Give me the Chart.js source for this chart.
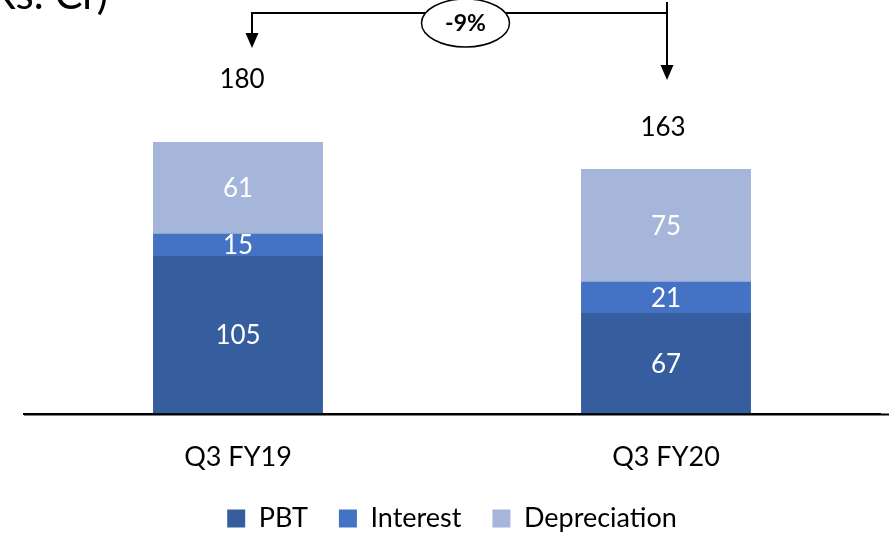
<!DOCTYPE html>
<html>
<head>
<meta charset="utf-8">
<script src="https://cdn.jsdelivr.net/npm/chart.js@4/dist/chart.umd.min.js"></script>
<style>
  html, body { margin: 0; padding: 0; background: #fff; }
  #wrap { width: 889px; height: 534px; position: relative; }
</style>
</head>
<body>
<div id="wrap"><canvas id="chart"></canvas></div>
<script>
const categories = ['Q3 FY19', 'Q3 FY20'];
const pbt = [105, 67];
const interest = [15, 21];
const depreciation = [61, 75];
const totals = [180, 163];
const changeLabel = '-9%';
const unitLabel = '(Rs. Cr)';

const FONT = 'Lato, "Open Sans", sans-serif';

// white value labels in the middle of each segment
const segmentLabels = {
    id: 'segmentLabels',
    afterDatasetsDraw(chart) {
        const ctx = chart.ctx;
        ctx.save();
        ctx.fillStyle = '#ffffff';
        ctx.font = '26px ' + FONT;
        ctx.textAlign = 'center';
        ctx.textBaseline = 'middle';
        chart.data.datasets.forEach((ds, i) => {
            const meta = chart.getDatasetMeta(i);
            meta.data.forEach((bar, j) => {
                ctx.fillText(String(ds.data[j]), bar.x, (bar.y + bar.base) / 2 + 1);
            });
        });
        ctx.restore();
    }
};

// totals, change bracket, unit title, axis extension
const annotations = {
    id: 'annotations',
    afterDraw(chart) {
        const ctx = chart.ctx;
        const top = chart.getDatasetMeta(chart.data.datasets.length - 1).data;
        const area = chart.chartArea;
        ctx.save();

        // axis line runs to the right edge
        ctx.strokeStyle = '#000';
        ctx.lineWidth = 2;
        ctx.beginPath();
        ctx.moveTo(area.left, area.bottom + 1);
        ctx.lineTo(chart.width, area.bottom + 1);
        ctx.stroke();

        // totals above bars
        const totalShift = [{dx: 4, dy: -62}, {dx: -3, dy: -41}];
        ctx.fillStyle = '#000';
        ctx.font = '26px ' + FONT;
        ctx.textAlign = 'center';
        ctx.textBaseline = 'middle';
        totals.forEach((t, i) => {
            ctx.fillText(String(t), top[i].x + totalShift[i].dx, top[i].y + totalShift[i].dy);
        });

        // bracket with arrows
        const leftX = top[0].x + 14;
        const rightX = top[1].x + 1;
        const lineY = 13;
        ctx.lineWidth = 2;
        ctx.beginPath();
        ctx.moveTo(leftX, 34);
        ctx.lineTo(leftX, lineY);
        ctx.lineTo(rightX, lineY);
        ctx.moveTo(rightX, 2);
        ctx.lineTo(rightX, 67);
        ctx.stroke();
        const head = (x, yTip) => {
            ctx.beginPath();
            ctx.moveTo(x - 6.5, yTip - 15);
            ctx.lineTo(x + 6.5, yTip - 15);
            ctx.lineTo(x, yTip);
            ctx.closePath();
            ctx.fill();
        };
        head(leftX, 48);
        head(rightX, 80);

        // ellipse with change
        const ex = (leftX + rightX) / 2 + 6;
        ctx.beginPath();
        ctx.ellipse(ex, 23, 44, 24, 0, 0, Math.PI * 2);
        ctx.fillStyle = '#fff';
        ctx.fill();
        ctx.lineWidth = 1.5;
        ctx.stroke();
        ctx.fillStyle = '#000';
        ctx.font = 'bold 23px ' + FONT;
        ctx.fillText(changeLabel, ex, 24);

        // unit title, cut by the top edge
        ctx.font = '42px ' + FONT;
        ctx.textAlign = 'right';
        ctx.textBaseline = 'alphabetic';
        ctx.fillText(unitLabel, 108, 9);

        ctx.restore();
    }
};

new Chart(document.getElementById('chart'), {
    type: 'bar',
    data: {
        labels: categories,
        datasets: [
            { label: 'PBT', data: pbt, backgroundColor: '#365E9F' },
            { label: 'Interest', data: interest, backgroundColor: '#4472C4' },
            { label: 'Depreciation', data: depreciation, backgroundColor: '#A6B5DA' }
        ]
    },
    options: {
        responsive: true,
        maintainAspectRatio: false,
        animation: false,
        layout: { padding: { top: 13, left: 24, right: 9, bottom: -8 } },
        datasets: { bar: { categoryPercentage: 1, barPercentage: 0.397, borderWidth: 0 } },
        scales: {
            x: {
                stacked: true,
                grid: { display: false, drawTicks: false },
                border: { display: true, color: '#000', width: 2 },
                ticks: { color: '#000', font: { family: FONT, size: 27 }, padding: 28 },
                // padding is counted twice by default; keep only the top gap
                afterFit: (scale) => { scale.height = 60.5; }
            },
            y: {
                stacked: true,
                display: false,
                min: 0,
                max: 267
            }
        },
        plugins: {
            legend: {
                position: 'bottom',
                labels: {
                    color: '#000',
                    font: { family: FONT, size: 27 },
                    boxWidth: 18,
                    boxHeight: 18,
                    padding: 31
                }
            },
            tooltip: { enabled: false }
        }
    },
    plugins: [segmentLabels, annotations]
});
</script>
</body>
</html>
